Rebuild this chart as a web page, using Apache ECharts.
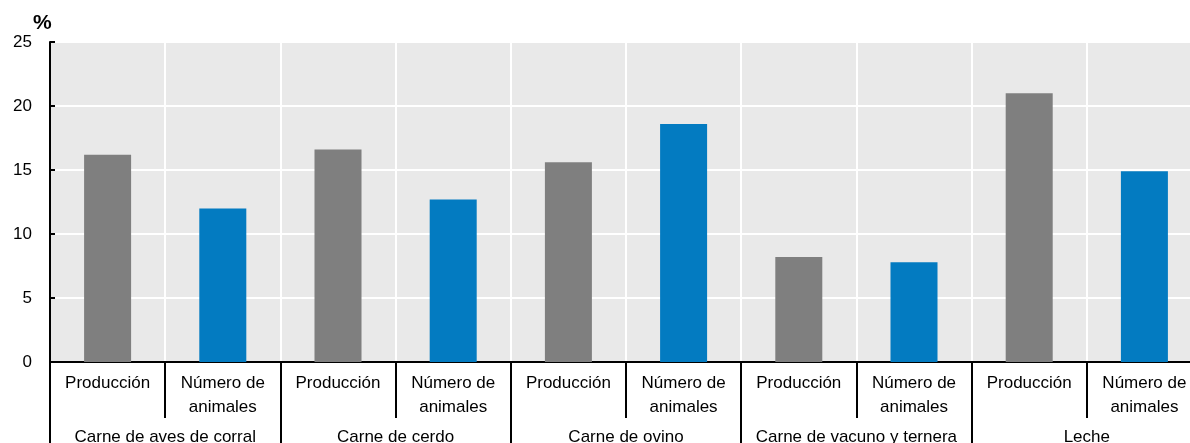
<!DOCTYPE html>
<html>
<head>
<meta charset="utf-8">
<script src="https://cdn.jsdelivr.net/npm/echarts@6/dist/echarts.min.js"></script>
<style>
  html, body { margin: 0; padding: 0; background: #fff; }
  #chart { width: 1190px; height: 443px; }
</style>
</head>
<body>
<div id="chart"></div>
<script>
// datos
var grupos = ['Carne de aves de corral', 'Carne de cerdo', 'Carne de ovino', 'Carne de vacuno y ternera', 'Leche'];
var tipos = ['Producción', 'Número de\nanimales'];
var produccion = [16.2, 16.6, 15.6, 8.2, 21.0];
var animales = [12.0, 12.7, 18.6, 7.8, 14.9];
var yTicks = [0, 5, 10, 15, 20, 25];

var GRIS = '#7f7f7f';
var AZUL = '#037bc1';
var FUENTE = 'Arial, "Liberation Sans", sans-serif';

// categorías del primer nivel y valores con su color
var categorias = [];
var valores = [];
grupos.forEach(function (g, i) {
  categorias.push(tipos[0], tipos[1]);
  valores.push({ value: produccion[i], itemStyle: { color: GRIS } });
  valores.push({ value: animales[i], itemStyle: { color: AZUL } });
});

var myChart = echarts.init(document.getElementById('chart'));
var option = {
  animation: false,
  textStyle: { fontFamily: FUENTE },
  grid: {
    left: 50, right: -12, top: 42, bottom: 81,
    outerBoundsMode: 'none',
    containLabel: false,
    show: true, backgroundColor: '#e9e9e9', borderWidth: 0
  },
  graphic: [{
    type: 'text', left: 33, top: 13,
    style: { text: '%', font: 'bold 21px ' + FUENTE, fill: '#000' }
  }],
  xAxis: [{
    type: 'category',
    data: categorias,
    position: 'bottom',
    axisLine: { show: true, lineStyle: { color: '#000', width: 2 } },
    axisTick: { show: true, interval: 0, length: 56, lineStyle: { color: '#000', width: 2 } },
    axisLabel: { interval: 0, color: '#000', fontSize: 17, lineHeight: 24, margin: 9 },
    splitLine: { show: true, interval: 0, lineStyle: { color: '#fff', width: 2 } }
  }, {
    type: 'category',
    data: grupos,
    position: 'bottom',
    axisLine: { show: false },
    axisTick: { show: true, interval: 0, length: 95, lineStyle: { color: '#000', width: 2 } },
    axisLabel: { interval: 0, color: '#000', fontSize: 17, margin: 67 },
    splitLine: { show: false }
  }],
  yAxis: {
    type: 'value',
    min: yTicks[0], max: yTicks[yTicks.length - 1], interval: 5,
    axisLine: { show: true, lineStyle: { color: '#000', width: 2 } },
    axisTick: { show: true, inside: true, length: 5, lineStyle: { color: '#000', width: 2 } },
    axisLabel: { color: '#000', fontSize: 17, margin: 18 },
    splitLine: { show: true, lineStyle: { color: '#fff', width: 2 } }
  },
  series: [{
    type: 'bar',
    xAxisIndex: 0,
    barWidth: 47,
    data: valores
  }]
};
myChart.setOption(option);
</script>
</body>
</html>
